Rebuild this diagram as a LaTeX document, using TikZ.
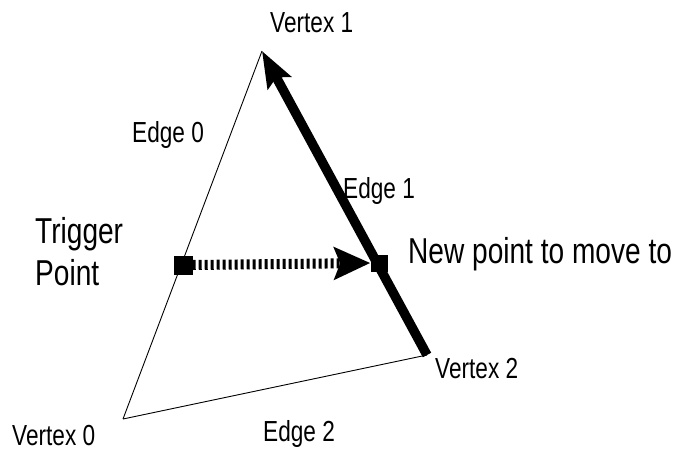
\documentclass[tikz,border=0pt]{standalone}
\usepackage{fontspec}
\newfontfamily\labfont[FakeStretch=0.78]{Liberation Sans}
\usetikzlibrary{arrows.meta}
\begin{document}
\begin{tikzpicture}[x=1pt,y=-1pt,
  small/.style={anchor=base west,inner sep=0pt,font=\labfont\fontsize{29}{32}\selectfont},
  big/.style={anchor=base west,inner sep=0pt,font=\labfont\fontsize{36}{40}\selectfont},
  thinedge/.style={line width=0.9pt},
  pt/.style={fill=black,draw=none,minimum size=#1,inner sep=0pt},
]
\useasboundingbox (0,0) rectangle (688,450);
\coordinate (v0) at (123,419);
\coordinate (v1) at (262,51);
\coordinate (v2) at (427,355);
\draw[thinedge] (v0) -- (v1);
\draw[thinedge] (v0) -- (v2);
\draw[line width=9.5pt,-{Stealth[length=36pt,width=26pt,inset=6pt]}] (v2) -- (v1);
\node[pt=19pt] (trig) at (183,265) {};
\node[pt=17pt] (newp) at (379,263) {};
\draw[line width=10pt,dash pattern=on 3pt off 3pt,-{Stealth[length=36pt,width=32pt,inset=6pt]}] (trig.east) -- (newp.west);
\node[small] (lv1) at (270,32) {Vertex 1};
\node[small] (le0) at (132,142) {Edge 0};
\node[small] (le1) at (343,198) {Edge 1};
\node[small] (lv2) at (435,378) {Vertex 2};
\node[small] (lv0) at (12,445) {Vertex 0};
\node[small] (le2) at (263,441) {Edge 2};
\node[big] (ltr) at (35,243) {Trigger};
\node[big] (lpt) at (35,285) {Point};
\node[big] (lnew) at (408,263) {New point to move to};
\end{tikzpicture}
\end{document}
